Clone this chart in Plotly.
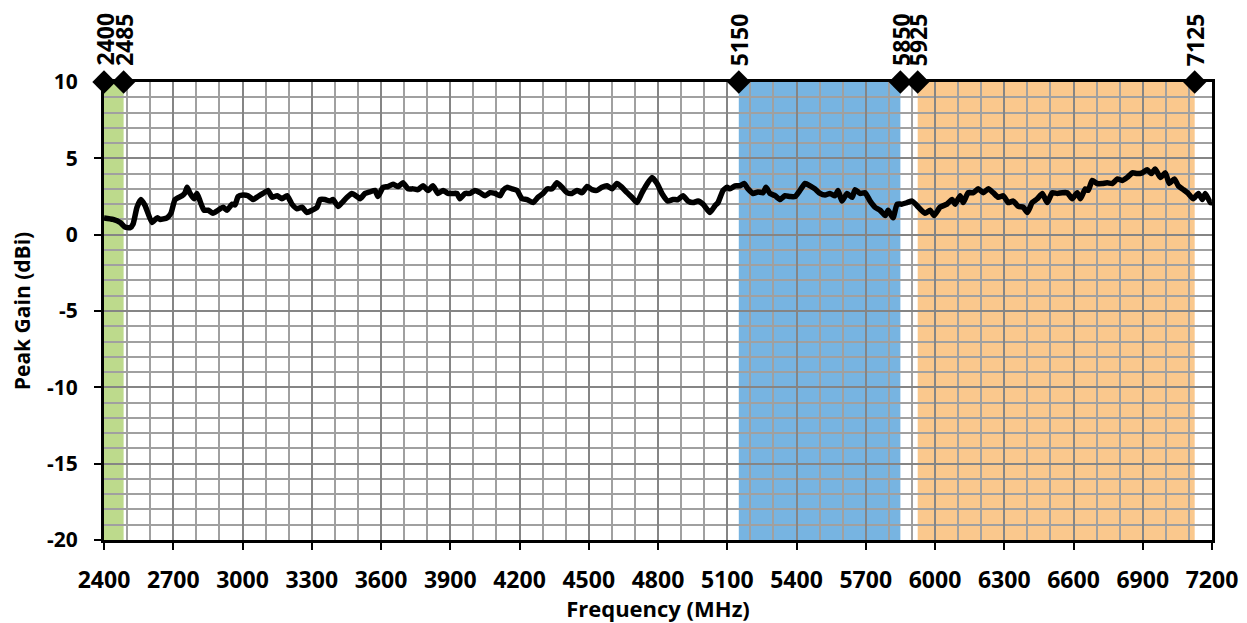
import plotly.graph_objects as go

# ---------------- data ----------------
freq_mhz = [2400, 2439, 2470, 2491, 2513, 2526, 2543, 2560, 2578, 2608, 2630, 2643, 2673, 2690,
            2708, 2738, 2751, 2760, 2773, 2790, 2803, 2816, 2833, 2851, 2872, 2894, 2916, 2933,
            2955, 2968, 2981, 3002, 3024, 3046, 3067, 3089, 3110, 3128, 3150, 3171, 3193, 3214,
            3236, 3258, 3279, 3301, 3323, 3336, 3357, 3379, 3392, 3414, 3431, 3453, 3474, 3496,
            3509, 3531, 3552, 3574, 3587, 3609, 3630, 3652, 3674, 3695, 3717, 3739, 3760, 3782,
            3804, 3825, 3847, 3869, 3890, 3912, 3929, 3942, 3964, 3986, 4007, 4029, 4051, 4072,
            4094, 4116, 4129, 4146, 4168, 4189, 4211, 4233, 4259, 4280, 4302, 4319, 4341, 4362,
            4384, 4406, 4427, 4449, 4471, 4493, 4514, 4536, 4557, 4579, 4601, 4622, 4644, 4666,
            4687, 4709, 4731, 4752, 4774, 4796, 4817, 4843, 4865, 4887, 4908, 4930, 4952, 4973,
            4995, 5025, 5047, 5060, 5082, 5099, 5112, 5134, 5155, 5173, 5190, 5212, 5233, 5255,
            5268, 5285, 5307, 5329, 5350, 5372, 5394, 5415, 5437, 5459, 5480, 5502, 5524, 5545,
            5567, 5580, 5597, 5619, 5641, 5654, 5675, 5697, 5719, 5740, 5762, 5784, 5797, 5818,
            5836, 5857, 5879, 5901, 5922, 5957, 5979, 5996, 6022, 6052, 6074, 6087, 6109, 6122,
            6144, 6166, 6187, 6209, 6231, 6252, 6274, 6296, 6317, 6339, 6361, 6382, 6400, 6421,
            6443, 6465, 6486, 6508, 6530, 6551, 6573, 6595, 6616, 6630, 6651, 6664, 6681, 6703,
            6725, 6746, 6768, 6790, 6812, 6833, 6855, 6876, 6898, 6919, 6937, 6954, 6976, 6998,
            7015, 7037, 7054, 7076, 7097, 7119, 7141, 7158, 7171, 7193, 7200]
peak_gain_dbi = [1.1, 1.0, 0.8, 0.5, 0.45, 0.7, 1.8, 2.3, 1.9, 0.8, 1.1, 1.0, 1.1, 1.4,
                 2.3, 2.55, 2.75, 3.1, 2.7, 2.35, 2.7, 2.2, 1.6, 1.6, 1.4, 1.6, 1.8, 1.6,
                 2.0, 1.95, 2.5, 2.6, 2.55, 2.3, 2.5, 2.7, 2.9, 2.45, 2.55, 2.35, 2.55, 2.0,
                 1.7, 1.8, 1.45, 1.6, 1.8, 2.3, 2.3, 2.2, 2.3, 1.85, 2.1, 2.45, 2.7, 2.5,
                 2.35, 2.7, 2.8, 2.9, 2.5, 3.1, 3.15, 3.3, 3.15, 3.4, 3.0, 3.0, 2.95, 3.2,
                 2.9, 3.2, 2.7, 2.9, 2.7, 2.7, 2.7, 2.35, 2.7, 2.7, 2.9, 2.75, 2.55, 2.75,
                 2.7, 2.55, 2.9, 3.1, 3.0, 2.9, 2.35, 2.3, 2.1, 2.45, 2.7, 3.0, 3.0, 3.4,
                 3.1, 2.75, 2.7, 2.9, 2.75, 3.15, 2.95, 2.9, 3.1, 3.2, 3.0, 3.35, 3.1, 2.75,
                 2.45, 2.1, 2.75, 3.3, 3.75, 3.35, 2.7, 2.2, 2.3, 2.3, 2.55, 2.2, 2.1, 2.2,
                 2.0, 1.45, 1.9, 2.1, 2.9, 3.1, 3.0, 3.2, 3.2, 3.35, 3.0, 2.7, 2.8, 2.75,
                 3.1, 2.7, 2.55, 2.3, 2.55, 2.5, 2.5, 2.9, 3.35, 3.2, 3.0, 2.7, 2.6, 2.7,
                 2.55, 2.9, 2.2, 2.7, 2.45, 2.95, 2.7, 2.75, 2.2, 1.8, 1.6, 1.25, 1.6, 1.1,
                 2.0, 2.0, 2.1, 2.2, 1.9, 1.4, 1.6, 1.25, 1.8, 2.0, 2.3, 2.0, 2.55, 2.1,
                 2.75, 2.75, 3.0, 2.75, 3.0, 2.75, 2.45, 2.55, 2.1, 2.2, 1.85, 1.8, 1.45, 2.1,
                 2.35, 2.7, 2.1, 2.75, 2.7, 2.75, 2.75, 2.35, 2.75, 2.35, 3.0, 2.9, 3.55, 3.35,
                 3.35, 3.4, 3.35, 3.65, 3.55, 3.75, 4.05, 4.0, 4.05, 4.25, 4.0, 4.3, 3.75, 4.05,
                 3.35, 3.65, 3.2, 2.95, 2.7, 2.35, 2.7, 2.3, 2.7, 2.1, 2.1]

band_start = [2400, 5150, 5925]
band_end = [2485, 5850, 7125]
band_colors = ["#BDDA8C", "#77B4E1", "#FAC88D"]

edge_freqs = [2400, 2485, 5150, 5850, 5925, 7125]
edge_labels = ["2400", "2485", "5150", "5850", "5925", "7125"]

x_ticks = list(range(2400, 7201, 300))
y_ticks = [-20, -15, -10, -5, 0, 5, 10]
x_range = [2400, 7200]
y_range = [-20, 10]

FONT = "'Open Sans', Lato, sans-serif"

fig = go.Figure()

# frequency bands
for x0, x1, c in zip(band_start, band_end, band_colors):
    fig.add_shape(type="rect", xref="x", yref="y", x0=x0, x1=x1,
                  y0=y_range[0], y1=y_range[1], fillcolor=c, line_width=0,
                  layer="below")

# gain curve
fig.add_trace(go.Scatter(x=freq_mhz, y=peak_gain_dbi, mode="lines",
                         line=dict(color="black", width=5.5, shape="spline", smoothing=0.5),
                         showlegend=False, hoverinfo="x+y"))

# band edge markers
fig.add_trace(go.Scatter(x=edge_freqs, y=[y_range[1]] * len(edge_freqs), mode="markers",
                         marker=dict(symbol="diamond", size=18, color="black"),
                         cliponaxis=False, showlegend=False))

for f, lab in zip(edge_freqs, edge_labels):
    fig.add_annotation(x=f, y=y_range[1], xref="x", yref="y", text="<b>%s</b>" % lab,
                       textangle=-90, showarrow=False, yanchor="bottom", xanchor="center",
                       yshift=14, font=dict(family=FONT, size=23, color="black"))

fig.update_layout(
    width=1239, height=615,
    margin=dict(l=96, r=35, t=74, b=83, autoexpand=False),
    paper_bgcolor="white", plot_bgcolor="white",
    font=dict(family=FONT, color="black"),
)

fig.update_xaxes(
    range=x_range, tickvals=x_ticks, ticktext=["<b>%d</b>" % v for v in x_ticks],
    tickfont=dict(family=FONT, size=23, color="black"),
    showgrid=True, gridcolor="#858585", gridwidth=2,
    minor=dict(dtick=100, tick0=2400, showgrid=True, gridcolor="#a0a0a0", gridwidth=1.5),
    showline=True, linecolor="black", linewidth=3, mirror=True,
    ticks="outside", ticklen=7, tickwidth=2, tickcolor="black",
    ticklabelstandoff=10,
    zeroline=False,
    title=dict(text="<b>Frequency (MHz)</b>", font=dict(family=FONT, size=22, color="black"),
               standoff=2),
)
fig.update_yaxes(
    range=y_range, tickvals=y_ticks, ticktext=["<b>%d</b>" % v for v in y_ticks],
    tickfont=dict(family=FONT, size=21, color="black"),
    showgrid=True, gridcolor="#858585", gridwidth=2,
    minor=dict(dtick=1, tick0=0, showgrid=True, gridcolor="#a0a0a0", gridwidth=1.5),
    showline=True, linecolor="black", linewidth=3, mirror=True,
    ticks="outside", ticklen=7, tickwidth=2, tickcolor="black",
    ticklabelstandoff=12,
    zeroline=False,
    title=dict(text="<b>Peak Gain (dBi)</b>", font=dict(family=FONT, size=21, color="black"),
               standoff=14),
)

fig.write_html("out.html")
